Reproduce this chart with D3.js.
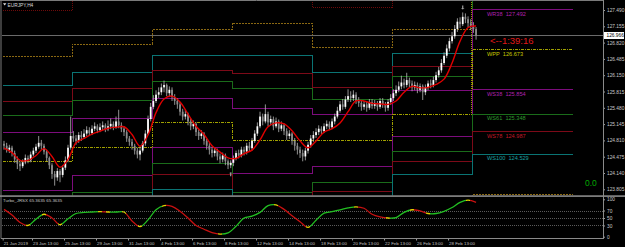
<!DOCTYPE html>
<html>
<head>
<meta charset="utf-8">
<script src="https://cdn.jsdelivr.net/npm/d3@7"></script>
<style>
body { margin: 0; background: #000; overflow: hidden; }
svg { display: block; }
text { font-family: "Liberation Sans", Arial, sans-serif; }
</style>
</head>
<body>
<div id="chart"></div>
<script>
// EURJPY H4 bars (open = previous close)
var firstOpen = 124.74;
var closes = [
  124.70,124.62,124.66,124.55,124.42,124.33,124.28,124.36,124.45,124.40,124.52,124.60,124.68,124.76,124.70,124.58,124.45,124.30,124.12,124.05,124.18,124.10,124.25,124.40,124.66,124.90,
  124.85,124.80,124.92,124.88,124.95,125.02,124.96,125.05,125.10,125.02,125.08,125.12,125.04,125.10,125.15,125.08,125.20,125.12,125.05,124.98,124.85,124.78,124.70,124.60,124.52,124.60,124.75,124.95,125.25,125.50,
  125.62,125.75,125.80,125.90,125.95,125.78,125.85,125.70,125.62,125.55,125.40,125.30,125.35,125.20,125.10,125.15,124.98,124.90,124.95,124.80,124.70,124.62,124.55,124.60,124.48,124.42,124.50,124.38,124.30,124.35,
  124.45,124.55,124.50,124.62,124.58,124.70,124.65,124.80,124.95,125.10,125.30,125.20,125.35,125.18,125.25,125.10,125.20,125.05,125.12,125.00,124.90,124.95,124.80,124.70,124.62,124.55,124.48,124.60,124.72,124.85,
  124.92,124.98,125.05,125.00,125.10,125.15,125.08,125.20,125.30,125.42,125.55,125.50,125.65,125.72,125.68,125.75,125.62,125.58,125.50,125.55,125.48,125.60,125.52,125.58,125.50,125.62,125.55,125.48,125.60,125.68,
  125.78,125.85,125.92,126.00,125.95,126.05,125.98,125.90,125.95,125.85,125.92,125.80,125.90,125.98,125.95,126.05,126.15,126.25,126.40,126.55,126.70,126.85,126.95,127.10,127.25,127.20,127.35,127.30,127.22,127.15,
  127.10,126.97
];
var highs = [
  124.80,124.76,124.72,124.70,124.60,124.48,124.38,124.42,124.52,124.50,124.58,124.66,124.74,124.90,124.82,124.74,124.62,124.48,124.34,124.18,124.24,124.22,124.30,124.48,124.72,125.30,
  125.00,124.92,124.98,125.00,125.04,125.10,125.08,125.12,125.18,125.14,125.16,125.20,125.16,125.22,125.26,125.20,125.30,125.44,125.18,125.10,125.02,124.90,124.84,124.74,124.66,124.68,124.80,125.02,125.32,125.58,
  125.74,125.84,125.90,125.98,126.04,125.98,125.92,125.90,125.76,125.68,125.60,125.46,125.44,125.38,125.26,125.22,125.18,125.04,125.02,124.98,124.84,124.76,124.68,124.66,124.64,124.54,124.56,124.54,124.42,124.40,
  124.50,124.60,124.62,124.68,124.68,124.76,124.78,124.86,125.02,125.18,125.40,125.36,125.55,125.40,125.32,125.30,125.28,125.24,125.20,125.16,125.06,125.02,124.98,124.86,124.76,124.68,124.62,124.66,124.78,124.92,
  125.00,125.06,125.12,125.10,125.16,125.22,125.20,125.26,125.36,125.50,125.62,125.66,125.72,125.86,125.82,125.84,125.80,125.70,125.64,125.62,125.60,125.66,125.66,125.64,125.62,125.68,125.68,125.60,125.66,125.76,
  125.86,125.94,126.02,126.14,126.08,126.20,126.10,126.04,126.02,126.00,125.98,125.96,125.96,126.04,126.06,126.12,126.22,126.32,126.48,126.62,126.78,126.92,127.04,127.18,127.32,127.34,127.44,127.42,127.36,127.30,
  127.24,127.14
];
var lows = [
  124.62,124.56,124.55,124.48,124.35,124.22,124.18,124.24,124.32,124.34,124.36,124.48,124.55,124.64,124.62,124.52,124.38,124.22,124.02,123.88,123.98,123.95,124.05,124.20,124.36,124.62,
  124.78,124.72,124.76,124.80,124.84,124.90,124.90,124.92,125.00,124.96,124.98,125.02,124.98,125.00,125.04,125.02,125.05,125.06,124.98,124.90,124.78,124.70,124.62,124.52,124.44,124.40,124.56,124.70,124.92,125.20,
  125.45,125.58,125.68,125.74,125.80,125.72,125.70,125.62,125.54,125.46,125.32,125.22,125.24,125.12,125.02,125.04,124.90,124.82,124.84,124.72,124.62,124.52,124.46,124.48,124.40,124.34,124.36,124.30,124.22,124.24,
  124.28,124.40,124.44,124.46,124.50,124.52,124.58,124.60,124.76,124.90,125.06,125.12,125.16,125.10,125.12,125.02,125.06,124.98,125.00,124.92,124.82,124.84,124.72,124.60,124.52,124.45,124.38,124.40,124.54,124.66,
  124.78,124.86,124.92,124.94,124.96,125.04,125.02,125.04,125.14,125.26,125.38,125.44,125.46,125.60,125.60,125.62,125.56,125.50,125.42,125.44,125.40,125.44,125.46,125.46,125.42,125.46,125.48,125.40,125.42,125.54,
  125.62,125.72,125.80,125.86,125.88,125.90,125.90,125.82,125.84,125.78,125.80,125.64,125.74,125.84,125.88,125.90,126.00,126.10,126.20,126.36,126.50,126.64,126.80,126.90,127.04,127.12,127.16,127.22,127.14,127.08,
  127.02,126.88
];
var bidPrice = 126.966;

// red smoothing line, one value every 3 bars
var maValues = [
  124.65,124.56,124.40,124.40,124.50,124.64,124.48,124.26,124.42,124.76,
  124.85,124.94,125.00,125.06,125.08,125.09,124.93,124.69,124.92,125.38,
  125.66,125.72,125.60,125.35,125.10,124.93,124.70,124.57,124.45,124.44,
  124.54,124.61,124.82,125.09,125.17,125.15,125.01,124.80,124.66,124.80,
  124.98,125.05,125.17,125.40,125.62,125.62,125.57,125.56,125.55,125.62,
  125.80,125.92,125.89,125.90,125.96,126.07,126.40,126.85,127.13,127.16
];
// Turbo_JRSX, one value every 3 bars
var rsxValues = [
  73,58,38,30,47,60,50,32,48,62,
  65,66,67,66,66,66,42,27,45,72,
  83,81,68,50,30,20,11,7,10,28,
  50,55,65,83,85,73,56,40,25,44,
  63,67,72,77,80,76,60,53,50,51,
  65,72,69,62,62,68,78,92,98,92
];
var maStep = 3;

// weekly fibonacci pivots (week start bar index)
var weekStarts = [0, 26, 56, 86, 116, 146, 176];
var levelsEndBar = 214;
var lvlR200 = [127.48, 127.73, 127.91, 128.29, 127.55, 127.85, 128.96];
var lvlR138 = [126.53, 126.79, 127.08, 127.22, 126.71, 127.08, 129.65];
var lvlR100 = [125.93, 126.20, 126.55, 126.55, 126.20, 126.60, 128.817];
var lvlR78  = [125.60, 125.87, 126.25, 126.18, 125.90, 126.33, 128.358];
var lvlR61  = [125.33, 125.62, 126.03, 125.87, 125.66, 126.12, 127.998];
var lvlR38  = [124.97, 125.26, 125.68, 125.46, 125.35, 125.83, 127.492];
var lvlPP   = [124.37, 124.67, 125.18, 124.81, 124.81, 125.35, 126.673];
var lvlS38  = [123.78, 124.09, 124.66, 124.12, 124.27, 124.88, 125.854];
var lvlS61  = [123.41, 123.73, 124.33, 123.73, 123.95, 124.58, 125.348];
var lvlS78  = [123.15, 123.47, 124.11, 123.43, 123.75, 124.37, 124.987];
var lvlS100 = [122.82, 123.15, 123.81, 123.06, 123.43, 124.10, 124.529];
var lvlS138 = [122.21, 122.56, 123.28, 122.38, 122.90, 123.62, 123.699];
var lvlS200 = [121.26, 121.62, 122.45, 121.31, 122.06, 122.86, 122.385];

var priceTicks = [127.490, 127.155, 126.820, 126.485, 126.150, 125.815, 125.480, 125.145, 124.810, 124.475, 124.140, 123.805];
var rsxTicks = [100, 70, 50, 30, 0];
var rsxLevels = [70, 50, 30];
var timeTickBars = [0, 11, 23, 35, 47, 59, 71, 83, 95, 107, 119, 131, 143, 155, 167];
var timeLabels = ["21 Jan 2019", "23 Jan 13:00", "25 Jan 13:00", "29 Jan 13:00", "31 Jan 13:00", "4 Feb 13:00",
  "6 Feb 13:00", "8 Feb 13:00", "12 Feb 13:00", "14 Feb 13:00", "18 Feb 13:00", "20 Feb 13:00",
  "22 Feb 13:00", "26 Feb 13:00", "28 Feb 13:00"];
var fractalHighBars = [172];
var fractalLowBars = [85];

var W = 625, H = 247;
var svg = d3.select("#chart").append("svg")
    .attr("width", W)
    .attr("height", H);
svg.append("rect").attr("width", W).attr("height", H).attr("fill", "#000");
var defs = svg.append("defs");

var axisX = 603;
var x = d3.scaleLinear().domain([0, levelsEndBar]).range([2.67, 2.67 + levelsEndBar * 2.667]);
var y = d3.scaleLinear().domain([123.805, 127.49]).range([189.3, 10]);
var yr = d3.scaleLinear().domain([0, 100]).range([236.7, 199.3]);
var bw = x(1) - x(0);

defs.append("clipPath").attr("id", "mainClip")
    .append("rect").attr("x", 2).attr("y", 1).attr("width", axisX - 2).attr("height", 194.5);
defs.append("clipPath").attr("id", "subClip")
    .append("rect").attr("x", 2).attr("y", 197).attr("width", axisX - 2).attr("height", 41);

var main = svg.append("g").attr("clip-path", "url(#mainClip)");

// pivot level lines
var levels = [
  {name: "R200", v: lvlR200, color: "#6e0a0a", dash: "1,1"},
  {name: "R138", v: lvlR138, color: "#8a6812", dash: "2,1"},
  {name: "R100", v: lvlR100, color: "#0a7474", dash: null, label: "#1aa0a0"},
  {name: "R78", v: lvlR78, color: "#7c0a18", dash: null, label: "#c01828"},
  {name: "R61", v: lvlR61, color: "#1a6c1a", dash: null, label: "#2e9a2e"},
  {name: "R38", v: lvlR38, color: "#7c0c7c", dash: null, label: "#b020b0"},
  {name: "PP", v: lvlPP, color: "#a0a000", dash: "3,1,1,1", label: "#c8c800"},
  {name: "S38", v: lvlS38, color: "#7c0c7c", dash: null, label: "#b020b0"},
  {name: "S61", v: lvlS61, color: "#1a6c1a", dash: null, label: "#2e9a2e"},
  {name: "S78", v: lvlS78, color: "#7c0a18", dash: null, label: "#c01828"},
  {name: "S100", v: lvlS100, color: "#0a7474", dash: null, label: "#1aa0a0"},
  {name: "S138", v: lvlS138, color: "#8a6812", dash: "2,1"},
  {name: "S200", v: lvlS200, color: "#6e0a0a", dash: "1,1"}
];

var stepLine = d3.line()
    .x(function (d) { return x(d[0]); })
    .y(function (d) { return y(d[1]); })
    .curve(d3.curveStepAfter);

levels.forEach(function (lv) {
    var pts = weekStarts.map(function (s, k) { return [s, lv.v[k]]; });
    pts.push([levelsEndBar, lv.v[lv.v.length - 1]]);
    main.append("path")
        .attr("d", stepLine(pts))
        .attr("fill", "none")
        .attr("stroke", lv.color)
        .attr("stroke-width", 1)
        .attr("stroke-dasharray", lv.dash)
        .attr("shape-rendering", "crispEdges");
});

// vertical separator of current week
main.append("line")
    .attr("x1", x(weekStarts[6]) - 0.5).attr("x2", x(weekStarts[6]) - 0.5)
    .attr("y1", 0).attr("y2", y(lvlPP[5]))
    .attr("stroke", "#a0a000").attr("stroke-dasharray", "1,1");

// labels of current week levels (only those inside the price window)
levels.forEach(function (lv) {
    if (!lv.label) return;
    var v = lv.v[lv.v.length - 1];
    if (y(v) < 4 || y(v) > 188) return;
    main.append("text")
        .attr("x", x(weekStarts[6]) + 15)
        .attr("y", y(v) + 6)
        .attr("fill", lv.label)
        .attr("font-size", "5.6px")
        .style("white-space", "pre")
        .text("W" + lv.name + "  " + d3.format(".3f")(v));
});

// bid line
main.append("line")
    .attr("x1", 2).attr("x2", axisX)
    .attr("y1", Math.round(y(bidPrice)) + 0.5).attr("y2", Math.round(y(bidPrice)) + 0.5)
    .attr("stroke", "#6a6a6a");

// candles
var bars = closes.map(function (c, i) {
    return {i: i, o: i === 0 ? firstOpen : closes[i - 1], c: c, h: highs[i], l: lows[i]};
});
var cg = main.append("g");
cg.selectAll("line.wick")
    .data(bars)
    .enter()
    .append("line")
    .attr("x1", function (d) { return x(d.i + 0.5); })
    .attr("x2", function (d) { return x(d.i + 0.5); })
    .attr("y1", function (d) { return y(d.h); })
    .attr("y2", function (d) { return y(d.l); })
    .attr("stroke", "#b8b8b8")
    .attr("stroke-width", 0.8);
cg.selectAll("rect.body")
    .data(bars)
    .enter()
    .append("rect")
    .attr("x", function (d) { return x(d.i + 0.5) - bw * 0.33; })
    .attr("width", bw * 0.66)
    .attr("y", function (d) { return y(Math.max(d.o, d.c)); })
    .attr("height", function (d) { return Math.max(0.8, Math.abs(y(d.o) - y(d.c))); })
    .attr("fill", function (d) { return d.c >= d.o ? "#ffffff" : "#8c8c8c"; });

// fractal arrows
function arrow(g, cx, cy, down) {
    var s = down ? 1 : -1;
    g.append("path")
        .attr("d", "M" + (cx - 0.6) + "," + (cy - 4 * s) + "L" + (cx + 0.6) + "," + (cy - 4 * s) +
            "L" + (cx + 0.6) + "," + (cy - 1.2 * s) + "L" + (cx + 1.8) + "," + (cy - 1.2 * s) +
            "L" + cx + "," + cy + "L" + (cx - 1.8) + "," + (cy - 1.2 * s) +
            "L" + (cx - 0.6) + "," + (cy - 1.2 * s) + "Z")
        .attr("fill", "#a0a0a0");
}
fractalHighBars.forEach(function (b) { arrow(main, x(b + 0.5), y(highs[b]) - 3, true); });
fractalLowBars.forEach(function (b) { arrow(main, x(b + 0.5), y(lows[b]) + 4, false); });

// red smoothing line
var maLine = d3.line()
    .x(function (d, k) { return x(k * maStep + 0.5); })
    .y(function (d) { return y(d); })
    .curve(d3.curveCatmullRom.alpha(0.5));
main.append("path")
    .attr("d", maLine(maValues))
    .attr("fill", "none")
    .attr("stroke", "#e00000")
    .attr("stroke-width", 1.4);

// countdown and status texts
svg.append("text")
    .attr("x", 490).attr("y", y(bidPrice) + 8.5)
    .attr("fill", "#e01818")
    .attr("font-size", "9.5px")
    .text("<--1:39:16");
svg.append("text")
    .attr("x", 585).attr("y", 186)
    .attr("fill", "#00a800")
    .attr("font-size", "8.5px")
    .text("0.0");

// title
svg.append("path").attr("d", "M3,3.2L6.4,3.2L4.7,5.6Z").attr("fill", "#e0e0e0");
svg.append("text")
    .attr("x", 7.5).attr("y", 6.6)
    .attr("fill", "#d8d8d8")
    .attr("font-size", "4.8px")
    .text("EURJPY,H4");

// frame and separators
svg.append("line").attr("x1", 1).attr("x2", 1).attr("y1", 0).attr("y2", 238.5).attr("stroke", "#7a7a7a");
svg.append("line").attr("x1", 0).attr("x2", axisX).attr("y1", 0.5).attr("y2", 0.5).attr("stroke", "#7a7a7a");
svg.append("rect").attr("x", 0).attr("y", 195.3).attr("width", W).attr("height", 1.6).attr("fill", "#8a8a8a");

// price axis
var yAxis = d3.axisRight(y)
    .tickValues(priceTicks)
    .tickSize(2)
    .tickFormat(d3.format(".3f"));
var ya = svg.append("g").attr("transform", "translate(" + axisX + ",0)").call(yAxis);
ya.select(".domain").remove();
ya.selectAll("line").attr("stroke", "#9a9a9a");
ya.selectAll("text")
    .attr("x", 4)
    .attr("fill", "#c8c8c8")
    .style("font-size", "4.8px")
    .style("font-family", "Liberation Sans, Arial, sans-serif");
svg.append("line").attr("x1", axisX + 0.5).attr("x2", axisX + 0.5).attr("y1", 0).attr("y2", 239).attr("stroke", "#8a8a8a");

// bid price box
svg.append("rect")
    .attr("x", axisX + 1).attr("y", y(bidPrice) - 3.5)
    .attr("width", 20).attr("height", 7)
    .attr("fill", "#ffffff");
svg.append("text")
    .attr("x", axisX + 3.5).attr("y", y(bidPrice) + 1.8)
    .attr("fill", "#000")
    .attr("font-size", "4.8px")
    .text(d3.format(".3f")(bidPrice));

// indicator window
var sub = svg.append("g").attr("clip-path", "url(#subClip)");
rsxLevels.forEach(function (lv) {
    sub.append("line")
        .attr("x1", 2).attr("x2", axisX)
        .attr("y1", Math.round(yr(lv)) + 0.5).attr("y2", Math.round(yr(lv)) + 0.5)
        .attr("stroke", "#5a5a5a")
        .attr("stroke-dasharray", "1,1");
});

var rsxPts = rsxValues.map(function (v, k) { return [x(k * maStep + 0.5), yr(v)]; });
var gx1 = rsxPts[0][0], gx2 = rsxPts[rsxPts.length - 1][0], span = gx2 - gx1;
var grad = defs.append("linearGradient")
    .attr("id", "rsxGrad")
    .attr("gradientUnits", "userSpaceOnUse")
    .attr("x1", gx1).attr("x2", gx2).attr("y1", 0).attr("y2", 0);
var stops = [];
var dirColor = function (k) { return rsxValues[k + 1] >= rsxValues[k] ? "#22c022" : "#c81010"; };
var delta = 1.6;
for (var k = 0; k < rsxValues.length - 1; k++) {
    var col = dirColor(k);
    var turnStart = k > 0 && dirColor(k - 1) !== col;
    var turnEnd = k < rsxValues.length - 2 && dirColor(k + 1) !== col;
    var s = rsxPts[k][0] + (turnStart ? delta : 0);
    var e = rsxPts[k + 1][0] - (turnEnd ? delta : 0);
    stops.push([s, col], [e, col]);
    if (turnEnd) stops.push([e, "#e0d000"], [rsxPts[k + 1][0] + delta, "#e0d000"]);
}
grad.selectAll("stop")
    .data(stops)
    .enter()
    .append("stop")
    .attr("offset", function (d) { return Math.max(0, Math.min(1, (d[0] - gx1) / span)); })
    .attr("stop-color", function (d) { return d[1]; });

var rsxLine = d3.line().curve(d3.curveCatmullRom.alpha(0.5));
sub.append("path")
    .attr("d", rsxLine(rsxPts))
    .attr("fill", "none")
    .attr("stroke", "url(#rsxGrad)")
    .attr("stroke-width", 1.3);

svg.append("text")
    .attr("x", 3).attr("y", 202)
    .attr("fill", "#c0c0c0")
    .attr("font-size", "4.4px")
    .text("Turbo_JRSX 65.3635 65.3635");

var rAxis = d3.axisRight(yr)
    .tickValues(rsxTicks)
    .tickSize(2)
    .tickFormat(d3.format("d"));
var ra = svg.append("g").attr("transform", "translate(" + axisX + ",0)").call(rAxis);
ra.select(".domain").remove();
ra.selectAll("line").attr("stroke", "#9a9a9a");
ra.selectAll("text")
    .attr("x", 4)
    .attr("fill", "#c8c8c8")
    .style("font-size", "4.8px")
    .style("font-family", "Liberation Sans, Arial, sans-serif");

// time axis
var xAxis = d3.axisBottom(x)
    .tickValues(timeTickBars)
    .tickSize(2)
    .tickFormat(function (d, i) { return timeLabels[i]; });
var xa = svg.append("g").attr("transform", "translate(0,238.5)").call(xAxis);
xa.select(".domain").remove();
xa.selectAll("line").attr("stroke", "#9a9a9a");
xa.selectAll("text")
    .attr("y", 3)
    .attr("x", 0.5)
    .attr("fill", "#c0c0c0")
    .style("text-anchor", "start")
    .style("font-size", "4.4px")
    .style("font-family", "Liberation Sans, Arial, sans-serif");
svg.append("line").attr("x1", 1).attr("x2", axisX).attr("y1", 238.5).attr("y2", 238.5).attr("stroke", "#8a8a8a");
</script>
</body>
</html>
